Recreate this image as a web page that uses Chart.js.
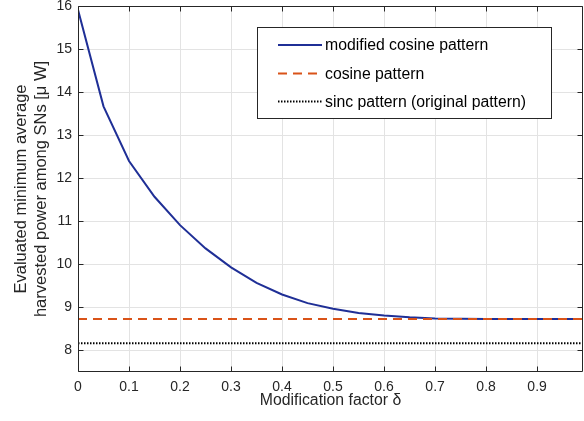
<!DOCTYPE html>
<html>
<head>
<meta charset="utf-8">
<script src="https://cdn.jsdelivr.net/npm/chart.js@4"></script>
<style>
  html, body { margin: 0; padding: 0; background: #fff; }
  #chart { display: block; }
</style>
</head>
<body>
<canvas id="chart" width="584" height="421"></canvas>
<script>
// Dados
const deltaValues = [0, 0.05, 0.1, 0.15, 0.2, 0.25, 0.3, 0.35, 0.4, 0.45, 0.5,
                     0.55, 0.6, 0.65, 0.7, 0.75, 0.8, 0.85, 0.9, 0.95, 0.99];
const modifiedCosine = [15.91, 13.67, 12.40, 11.57, 10.91, 10.37, 9.93, 9.57, 9.30, 9.10, 8.97,
                        8.87, 8.81, 8.77, 8.745, 8.735, 8.73, 8.73, 8.73, 8.73, 8.73];
const cosineDelta = [0, 0.99];
const cosinePattern = [8.73, 8.73];
const sincDelta = [0, 0.99];
const sincPattern = [8.17, 8.17];
const seriesLabels = ['modified cosine pattern', 'cosine pattern', 'sinc pattern (original pattern)'];

const axisColor = '#262626';
const fontFamily = '"Liberation Sans", Arial, Helvetica, sans-serif';

function toPoints(xs, ys) {
    return xs.map((x, i) => ({ x: x, y: ys[i] }));
}

// Caixa dos eixos, marcas internas e legenda (estilo MATLAB)
const matlabFrame = {
    id: 'matlabFrame',
    afterDatasetsDraw(chart) {
        const ctx = chart.ctx;
        const area = chart.chartArea;
        const xs = chart.scales.x;
        const ys = chart.scales.y;
        const L = Math.round(area.left) + 0.5;
        const R = Math.round(area.right) - 0.5;
        const T = Math.round(area.top) + 0.5;
        const B = Math.round(area.bottom) - 0.5;
        const tickLen = 5;

        ctx.save();
        ctx.strokeStyle = axisColor;
        ctx.lineWidth = 1;
        ctx.beginPath();
        ctx.rect(L, T, R - L, B - T);
        xs.ticks.forEach(t => {
            const px = Math.round(xs.getPixelForValue(t.value)) + 0.5;
            ctx.moveTo(px, B); ctx.lineTo(px, B - tickLen);
            ctx.moveTo(px, T); ctx.lineTo(px, T + tickLen);
        });
        ys.ticks.forEach(t => {
            const py = Math.round(ys.getPixelForValue(t.value)) + 0.5;
            ctx.moveTo(L, py); ctx.lineTo(L + tickLen, py);
            ctx.moveTo(R, py); ctx.lineTo(R - tickLen, py);
        });
        ctx.stroke();

        // legenda
        const box = { x: 257, y: 27, w: 294, h: 91 };
        ctx.fillStyle = '#fff';
        ctx.fillRect(box.x, box.y, box.w, box.h);
        ctx.strokeStyle = axisColor;
        ctx.strokeRect(box.x + 0.5, box.y + 0.5, box.w, box.h);
        const rows = [45, 73.5, 101.5];
        const order = [0, 1, 2];
        ctx.font = '15.8px ' + fontFamily;
        ctx.textBaseline = 'middle';
        ctx.textAlign = 'left';
        order.forEach((dsIndex, i) => {
            const ds = chart.data.datasets[dsIndex];
            ctx.save();
            ctx.strokeStyle = ds.borderColor;
            ctx.lineWidth = ds.borderWidth;
            ctx.setLineDash(ds.borderDash || []);
            ctx.beginPath();
            ctx.moveTo(278, rows[i]);
            ctx.lineTo(322, rows[i]);
            ctx.stroke();
            ctx.restore();
            ctx.fillStyle = '#000';
            ctx.fillText(ds.label, 325, rows[i] + 1);
        });
        ctx.restore();
    }
};

const ctx = document.getElementById('chart').getContext('2d');
window.harvestChart = new Chart(ctx, {
    type: 'line',
    data: {
        datasets: [{
            label: seriesLabels[0],
            data: toPoints(deltaValues, modifiedCosine),
            borderColor: '#1f2f96',
            borderWidth: 2,
            pointRadius: 0,
            tension: 0,
            order: 3
        }, {
            label: seriesLabels[1],
            data: toPoints(cosineDelta, cosinePattern),
            borderColor: '#D95319',
            borderWidth: 2,
            borderDash: [9, 6],
            pointRadius: 0,
            order: 2
        }, {
            label: seriesLabels[2],
            data: toPoints(sincDelta, sincPattern),
            borderColor: '#000000',
            borderWidth: 2,
            borderDash: [1.5, 1.5],
            pointRadius: 0,
            order: 1
        }]
    },
    options: {
        responsive: false,
        animation: false,
        events: [],
        layout: { padding: { top: 6, right: 1, left: 0, bottom: 0 } },
        plugins: {
            legend: { display: false },
            tooltip: { enabled: false }
        },
        scales: {
            x: {
                type: 'linear',
                min: 0,
                max: 0.99,
                border: { display: false },
                grid: { color: '#e3e3e3', drawTicks: false },
                ticks: {
                    stepSize: 0.1,
                    includeBounds: false,
                    padding: 7,
                    color: axisColor,
                    font: { family: fontFamily, size: 14 },
                    maxRotation: 0
                },
                title: {
                    display: true,
                    text: 'Modification factor δ',
                    color: axisColor,
                    font: { family: fontFamily, size: 15.8, lineHeight: 1.2 },
                    padding: { top: 0, bottom: 11 }
                },
                afterFit(scale) {
                    scale.height = 49;
                    scale.paddingLeft = 0;
                    scale.paddingRight = 0;
                }
            },
            y: {
                type: 'linear',
                min: 7.5,
                max: 16,
                border: { display: false },
                grid: { color: '#e3e3e3', drawTicks: false },
                ticks: {
                    stepSize: 1,
                    includeBounds: false,
                    padding: 6,
                    color: axisColor,
                    font: { family: fontFamily, size: 14 }
                },
                title: {
                    display: true,
                    text: ['Evaluated minimum average', 'harvested power among SNs [μ W]'],
                    color: axisColor,
                    font: { family: fontFamily, size: 16.5, lineHeight: 1.22 },
                    padding: { top: 11, bottom: 0 }
                },
                afterFit(scale) {
                    scale.width = 78;
                    scale.paddingTop = 0;
                    scale.paddingBottom = 0;
                }
            }
        }
    },
    plugins: [matlabFrame]
});
</script>
</body>
</html>
